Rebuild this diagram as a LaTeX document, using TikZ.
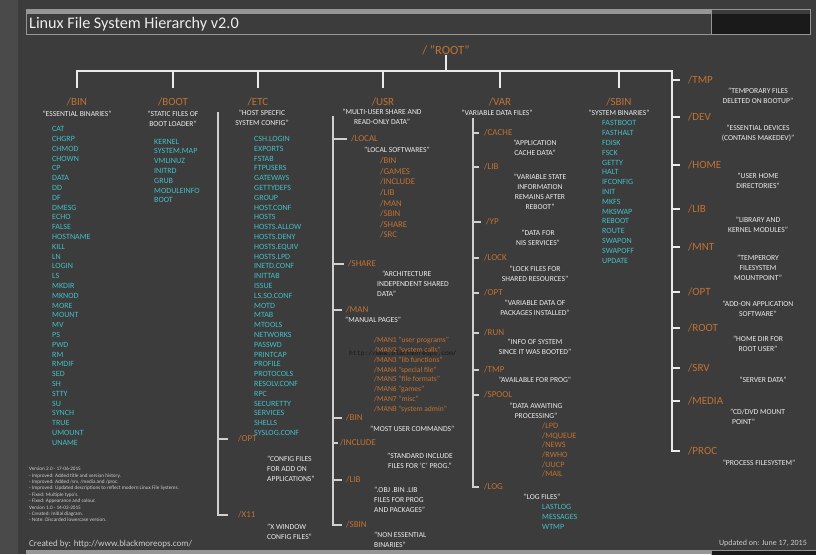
\documentclass[tikz,border=0pt]{standalone}
\usepackage{fontspec}
\setmainfont{Carlito}
\newfontfamily\stampfont{Liberation Mono}
\definecolor{panel}{RGB}{60,60,60}
\definecolor{edge}{RGB}{74,74,74}
\definecolor{dirorange}{RGB}{194,114,50}
\definecolor{filecyan}{RGB}{66,192,200}
\definecolor{paper}{RGB}{236,236,236}
\definecolor{wire}{RGB}{234,234,234}
\definecolor{subwire}{RGB}{208,208,208}
\definecolor{stripe}{RGB}{150,150,150}
\definecolor{boxdark}{RGB}{26,26,26}
\definecolor{stamp}{RGB}{24,24,24}
\definecolor{history}{RGB}{205,205,205}

\begin{document}
\begin{tikzpicture}[x=1pt, y=-1pt,
    every node/.style={inner sep=1pt},
    head/.style={dirorange, font=\fontsize{11}{13}\selectfont},
    subdir/.style={dirorange, font=\fontsize{9}{11}\selectfont, anchor=west},
    desc/.style={paper, font=\fontsize{7.6}{10}\selectfont, align=center},
    files/.style={filecyan, font=\fontsize{8}{9.8}\selectfont, align=left, anchor=west},
    dirs/.style={dirorange, align=left, anchor=west},
    trunk/.style={wire, line width=2.4pt, line cap=rect},
    drop/.style={trunk, shorten >=10pt},
    tick/.style={trunk, shorten >=8pt},
    branch/.style={subwire, line width=1.6pt, line cap=rect},
    twig/.style={branch, shorten >=#1}]
    \fill[panel] (0,0) rectangle (816,554);
    \fill[edge] (0,0) rectangle (18,554);
    \useasboundingbox (0,0) rectangle (816,554);

    \fill[stripe] (26,9) rectangle (711,14);
    \fill[boxdark] (711,14) rectangle (810,34);
    \draw[stripe, line width=0.8pt] (26,9) rectangle (810,34);
    \draw[stripe, line width=0.8pt] (711,9) -- (711,34);
    \fill[stripe] (26,550) rectangle (711,554);
    \filldraw[fill=boxdark, draw=stripe, line width=0.8pt] (711,550) rectangle (816,556);

    \node[anchor=west, paper, font=\fontsize{16.2}{19}\selectfont] (title) at (28,24) {Linux File System Hierarchy v2.0};
    \node[dirorange, font=\fontsize{12.5}{15}\selectfont] (root) at (446,50) {/ "ROOT"};
    \coordinate (barleft) at (78,71);
    \coordinate (barright) at (672,71);

    \node[head] (bin) at (77,102) {/BIN};
    \node[desc] (binnote) at (77,114) {"ESSENTIAL BINARIES"};
    \node[files] (binlist) at (51,286) {CAT\\CHGRP\\CHMOD\\CHOWN\\CP\\DATA\\DD\\DF\\DMESG\\ECHO\\FALSE\\HOSTNAME\\KILL\\LN\\LOGIN\\LS\\MKDIR\\MKNOD\\MORE\\MOUNT\\MV\\PS\\PWD\\RM\\RMDIF\\SED\\SH\\STTY\\SU\\SYNCH\\TRUE\\UMOUNT\\UNAME};

    \node[head] (boot) at (173,102) {/BOOT};
    \node[desc] (bootnote) at (173,119) {"STATIC FILES OF\\BOOT LOADER"};
    \node[files] (bootlist) at (153,171) {KERNEL\\SYSTEM.MAP\\VMLINUZ\\INITRD\\GRUB\\MODULEINFO\\BOOT};

    \node[head] (etc) at (258,102) {/ETC};
    \node[desc] (etcnote) at (262,118) {"HOST SPECFIC\\SYSTEM CONFIG"};
    \node[files] (etclist) at (253,286) {CSH.LOGIN\\EXPORTS\\FSTAB\\FTPUSERS\\GATEWAYS\\GETTYDEFS\\GROUP\\HOST.CONF\\HOSTS\\HOSTS.ALLOW\\HOSTS.DENY\\HOSTS.EQUIV\\HOSTS.LPD\\INETD.CONF\\INITTAB\\ISSUE\\LS.SO.CONF\\MOTD\\MTAB\\MTOOLS\\NETWORKS\\PASSWD\\PRINTCAP\\PROFILE\\PROTOCOLS\\RESOLV.CONF\\RPC\\SECURETTY\\SERVICES\\SHELLS\\SYSLOG.CONF};
    \coordinate (etctop) at (218,113);
    \node[subdir] (eopt) at (237,439) {/OPT};
    \node[desc, align=left, anchor=west] (eoptnote) at (266,469) {"CONFIG FILES\\FOR ADD ON\\APPLICATIONS"};
    \node[subdir] (ex11) at (237,515) {/X11};
    \node[desc, align=left, anchor=west] (ex11note) at (266,532) {"X WINDOW\\CONFIG FILES"};

    \node[head] (usr) at (383,102) {/USR};
    \node[desc] (usrnote) at (382,117) {"MULTI-USER SHARE AND\\READ-ONLY DATA"};
    \coordinate (usrtop) at (333,117);
    \node[subdir] (ulocal) at (350,139) {/LOCAL};
    \node[desc] (ulocalnote) at (397,150) {"LOCAL SOFTWARES"};
    \node[dirs, font=\fontsize{8.8}{10.6}\selectfont] (locallist) at (379,198) {/BIN\\/GAMES\\/INCLUDE\\/LIB\\/MAN\\/SBIN\\/SHARE\\/SRC};
    \node[subdir] (ushare) at (347,264) {/SHARE};
    \node[desc, align=left, anchor=west] (usharenote) at (376,284) {\hspace*{5pt}"ARCHITECTURE\\INDEPENDENT SHARED\\DATA"};
    \node[subdir] (uman) at (345,310) {/MAN};
    \node[desc, anchor=west] (umannote) at (344,320) {"MANUAL PAGES"};
    \node[dirs, font=\fontsize{7.6}{9.76}\selectfont] (manlist) at (373,375) {/MAN1 "user programs"\\/MAN2 "system calls"\\/MAN3 "lib functions"\\/MAN4 "special file"\\/MAN5 "file formats"\\/MAN6 "games"\\/MAN7 "misc"\\/MAN8 "system admin"};
    \node[stamp, font=\stampfont\fontsize{6.4}{8}\selectfont] (stamp) at (403,354) {http://www.blackmoreops.com/};
    \node[subdir] (ubin) at (345,418) {/BIN};
    \node[desc, anchor=west] (ubinnote) at (369,429) {"MOST USER COMMANDS"};
    \node[subdir] (uinclude) at (339,443) {/INCLUDE};
    \node[desc] (uincludenote) at (420,461) {"STANDARD INCLUDE\\FILES FOR 'C' PROG."};
    \node[subdir] (ulib) at (345,480) {/LIB};
    \node[desc, align=left, anchor=west] (ulibnote) at (373,500) {".OBJ .BIN .LIB\\FILES FOR PROG\\AND PACKAGES"};
    \node[subdir] (usbin) at (345,525) {/SBIN};
    \node[desc, align=left, anchor=west] (usbinnote) at (373,540) {"NON ESSENTIAL\\BINARIES"};

    \node[head] (var) at (500,102) {/VAR};
    \node[desc] (varnote) at (497,113) {"VARIABLE DATA FILES"};
    \coordinate (vartop) at (473,119);
    \node[subdir] (vcache) at (483,133) {/CACHE};
    \node[desc] (vcachenote) at (535,148) {"APPLICATION\\CACHE DATA"};
    \node[subdir] (vlib) at (483,167) {/LIB};
    \node[desc] (vlibnote) at (540,192) {"VARIABLE STATE\\INFORMATION\\REMAINS AFTER\\REBOOT"};
    \node[subdir] (vyp) at (485,222) {/YP};
    \node[desc] (vypnote) at (538,238) {"DATA FOR\\NIS SERVICES"};
    \node[subdir] (vlock) at (483,258) {/LOCK};
    \node[desc] (vlocknote) at (535,274) {"LOCK FILES FOR\\SHARED RESOURCES"};
    \node[subdir] (vopt) at (483,293) {/OPT};
    \node[desc] (voptnote) at (535,308) {"VARIABLE DATA OF\\PACKAGES INSTALLED"};
    \node[subdir] (vrun) at (483,333) {/RUN};
    \node[desc] (vrunnote) at (535,347) {"INFO OF SYSTEM\\SINCE IT WAS BOOTED"};
    \node[subdir] (vtmp) at (483,370) {/TMP};
    \node[desc] (vtmpnote) at (535,380) {"AVAILABLE FOR PROG"};
    \node[subdir] (vspool) at (483,395) {/SPOOL};
    \node[desc] (vspoolnote) at (536,411) {"DATA AWAITING\\PROCESSING"};
    \node[dirs, font=\fontsize{8.2}{9.7}\selectfont] (spoollist) at (541,450) {/LPD\\/MQUEUE\\/NEWS\\/RWHO\\/UUCP\\/MAIL};
    \node[subdir] (vlog) at (483,487) {/LOG};
    \node[desc] (vlognote) at (542,497) {"LOG FILES"};
    \node[files] (loglist) at (541,517) {LASTLOG\\MESSAGES\\WTMP};

    \node[head] (sbin) at (619,102) {/SBIN};
    \node[desc] (sbinnote) at (619,113) {"SYSTEM BINARIES"};
    \node[files] (sbinlist) at (601,192) {FASTBOOT\\FASTHALT\\FDISK\\FSCK\\GETTY\\HALT\\IFCONFIG\\INIT\\MKFS\\MKSWAP\\REBOOT\\ROUTE\\SWAPON\\SWAPOFF\\UPDATE};

    \node[head, anchor=west] (rtmp) at (687,80) {/TMP};
    \node[desc] (rtmpnote) at (758,96) {"TEMPORARY FILES\\DELETED ON BOOTUP"};
    \node[head, anchor=west] (rdev) at (687,117) {/DEV};
    \node[desc] (rdevnote) at (758,133) {"ESSENTIAL DEVICES\\(CONTAINS MAKEDEV)"};
    \node[head, anchor=west] (rhome) at (687,165) {/HOME};
    \node[desc] (rhomenote) at (758,181) {"USER HOME\\DIRECTORIES"};
    \node[head, anchor=west] (rlib) at (687,209) {/LIB};
    \node[desc] (rlibnote) at (758,225) {"LIBRARY AND\\KERNEL MODULES"};
    \node[head, anchor=west] (rmnt) at (687,247) {/MNT};
    \node[desc] (rmntnote) at (758,268) {"TEMPERORY\\FILESYSTEM\\MOUNTPOINT"};
    \node[head, anchor=west] (ropt) at (687,292) {/OPT};
    \node[desc] (roptnote) at (758,309) {"ADD-ON APPLICATION\\SOFTWARE"};
    \node[head, anchor=west] (rroot) at (687,328) {/ROOT};
    \node[desc] (rrootnote) at (758,344) {"HOME DIR FOR\\ROOT USER"};
    \node[head, anchor=west] (rsrv) at (687,368) {/SRV};
    \node[desc] (rsrvnote) at (763,380) {"SERVER DATA"};
    \node[head, anchor=west] (rmedia) at (687,401) {/MEDIA};
    \node[desc, align=left, anchor=west] (rmedianote) at (729,417) {"CD/DVD MOUNT\\\hspace*{2pt}POINT"};
    \node[head, anchor=west] (rproc) at (687,451) {/PROC};
    \node[desc] (rprocnote) at (759,463) {"PROCESS FILESYSTEM"};

    \node[history, font=\fontsize{5.2}{6.4}\selectfont, align=left, anchor=west] (notes) at (28,494.6) {Version 2.0 - 17-06-2015\\- Improved: Added title and version history.\\- Improved: Added /srv, /media and /proc.\\- Improved: Updated descriptions to reflect modern Linux File Systems.\\- Fixed: Multiple typo's.\\- Fixed: Appearance and colour.\\Version 1.0 - 14-02-2015\\- Created: Initial diagram.\\- Note: Discarded lowercase version.};
    \node[history, font=\fontsize{9}{11}\selectfont, anchor=west] (credit) at (28,544) {Created by: http://www.blackmoreops.com/};
    \node[history, font=\fontsize{8}{10}\selectfont, anchor=east] (updated) at (808,543) {Updated on: June 17, 2015};

    \draw[trunk] (root.south) -- (root.south |- barleft);
    \draw[trunk] (barleft) -- (barright) -- (barright |- rproc.west);
    \draw[drop] (bin.north |- barleft) -- (bin.north);
    \draw[drop] (boot.north |- barleft) -- (boot.north);
    \draw[drop] (etc.north |- barleft) -- (etc.north);
    \draw[drop] (usr.north |- barleft) -- (usr.north);
    \draw[drop] (var.north |- barleft) -- (var.north);
    \draw[drop] (sbin.north |- barleft) -- (sbin.north);

    \draw[tick] (barright |- rtmp.west) -- (rtmp.west);
    \draw[tick] (barright |- rdev.west) -- (rdev.west);
    \draw[tick] (barright |- rhome.west) -- (rhome.west);
    \draw[tick] (barright |- rlib.west) -- (rlib.west);
    \draw[tick] (barright |- rmnt.west) -- (rmnt.west);
    \draw[tick] (barright |- ropt.west) -- (ropt.west);
    \draw[tick] (barright |- rroot.west) -- (rroot.west);
    \draw[tick] (barright |- rsrv.west) -- (rsrv.west);
    \draw[tick] (barright |- rmedia.west) -- (rmedia.west);
    \draw[tick] (barright |- rproc.west) -- (rproc.west);

    \draw[twig=10pt] (etctop) |- (ex11.west);
    \draw[twig=10pt] (etctop |- eopt.west) -- (eopt.west);

    \draw[twig=4pt] (usrtop) |- (usbin.west);
    \draw[twig=4pt] (usrtop |- ulocal.west) -- (ulocal.west);
    \draw[twig=4pt] (usrtop |- ushare.west) -- (ushare.west);
    \draw[twig=4pt] (usrtop |- uman.west) -- (uman.west);
    \draw[twig=4pt] (usrtop |- ubin.west) -- (ubin.west);
    \draw[twig=2pt] (usrtop |- uinclude.west) -- (uinclude.west);
    \draw[twig=4pt] (usrtop |- ulib.west) -- (ulib.west);

    \draw[twig=5pt] (vartop) |- (vlog.west);
    \draw[twig=5pt] (vartop |- vcache.west) -- (vcache.west);
    \draw[twig=5pt] (vartop |- vlib.west) -- (vlib.west);
    \draw[twig=5pt] (vartop |- vyp.west) -- (vyp.west);
    \draw[twig=5pt] (vartop |- vlock.west) -- (vlock.west);
    \draw[twig=5pt] (vartop |- vopt.west) -- (vopt.west);
    \draw[twig=5pt] (vartop |- vrun.west) -- (vrun.west);
    \draw[twig=5pt] (vartop |- vtmp.west) -- (vtmp.west);
    \draw[twig=5pt] (vartop |- vspool.west) -- (vspool.west);
\end{tikzpicture}
\end{document}
